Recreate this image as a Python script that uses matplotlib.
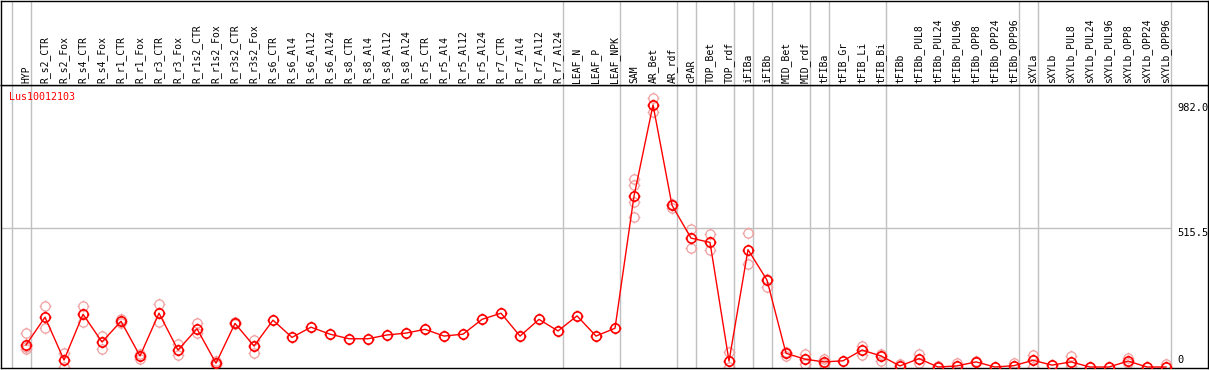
import numpy as np
import matplotlib.pyplot as plt
from matplotlib.path import Path

# sample names along the x axis
samples = ['HYP', 'R_s2_CTR', 'R_s2_Fox', 'R_s4_CTR', 'R_s4_Fox', 'R_r1_CTR', 'R_r1_Fox',
           'R_r3_CTR', 'R_r3_Fox', 'R_r1s2_CTR', 'R_r1s2_Fox', 'R_r3s2_CTR', 'R_r3s2_Fox',
           'R_s6_CTR', 'R_s6_Al4', 'R_s6_Al12', 'R_s6_Al24', 'R_s8_CTR', 'R_s8_Al4', 'R_s8_Al12',
           'R_s8_Al24', 'R_r5_CTR', 'R_r5_Al4', 'R_r5_Al12', 'R_r5_Al24', 'R_r7_CTR', 'R_r7_Al4',
           'R_r7_Al12', 'R_r7_Al24', 'LEAF_N', 'LEAF_P', 'LEAF_NPK', 'SAM', 'AR_Bet', 'AR_rdf',
           'cPAR', 'TOP_Bet', 'TOP_rdf', 'iFIBa', 'iFIBb', 'MID_Bet', 'MID_rdf', 'tFIBa',
           'tFIB_Gr', 'tFIB_Li', 'tFIB_Bi', 'tFIBb', 'tFIBb_PUL8', 'tFIBb_PUL24', 'tFIBb_PUL96',
           'tFIBb_OPP8', 'tFIBb_OPP24', 'tFIBb_OPP96', 'sXYLa', 'sXYLb', 'sXYLb_PUL8',
           'sXYLb_PUL24', 'sXYLb_PUL96', 'sXYLb_OPP8', 'sXYLb_OPP24', 'sXYLb_OPP96']

# mean expression per sample
means = [82, 185, 26, 196, 93, 170, 41, 200, 63, 142, 14, 162, 78,
         174, 110, 148, 122, 105, 105, 119, 126, 140, 115, 122, 177, 200, 115, 177, 134,
         190, 115, 144,
         635, 974, 601, 479, 463, 22, 436, 323, 51, 29,
         19, 23, 63, 41, 4, 31, 0, 4, 19, 0, 5,
         25, 7, 19, 0, 0, 22, 0, 0]

# individual replicates (visible ones)
replicates = [[125, 75, 66], [227, 146], [53, 1], [227, 168], [115, 68], [178, 162], [48, 31],
              [234, 166], [84, 43], [165, 127], [22, 7], [166, 160], [99, 53],
              [], [], [], [], [], [], [], [], [], [], [], [], [], [], [], [],
              [], [], [],
              [699, 675, 613, 557], [1001, 946], [606, 592], [513, 442], [494, 434], [57, 0],
              [497, 383], [328, 298], [57, 41], [47, 11],
              [29, 11], [], [78, 46], [48, 23], [11], [48, 16], [4], [16], [23], [], [14],
              [45, 1], [], [42, 4], [], [], [32, 16], [], [11]]

# first sample index of each tissue group
group_starts = [0, 1, 29, 32, 35, 36, 38, 39, 40, 42, 43, 46, 53, 54, 61]

scale_values = [0, 515.5, 982.0]
scale_labels = ['0', '515.5', '982.0']
gene = 'Lus10012103'

# circle (polygon) with small cross ticks
t = np.linspace(0, 2 * np.pi, 33)
r = 0.78
circ = Path(np.column_stack([r * np.cos(t), r * np.sin(t)]))
stubs = Path([(0, r), (0, 1), (0, -r), (0, -1), (r, 0), (1, 0), (-r, 0), (-1, 0)],
             [Path.MOVETO, Path.LINETO] * 4)
marker = Path.make_compound_path(circ, stubs)

W, H = 1209, 370
fig = plt.figure(figsize=(W / 100, H / 100), dpi=100)
ax = fig.add_axes([1 / W, (H - 368) / H, 1207 / W, 283 / H])
hx = fig.add_axes([1 / W, (H - 85) / H, 1207 / W, 84.5 / H])

x = np.arange(len(samples))
xlim = (-1.316, 62.21)
for a in (ax, hx):
    a.set_xlim(*xlim)
    a.set_xticks([])
    a.set_yticks([])
    for s in a.spines.values():
        s.set_color('black')
        s.set_linewidth(1)
    for g in group_starts:
        a.axvline(g - 0.76, color='#c0c0c0', lw=1, zorder=0)

ax.set_ylim(-3.7, 1048)
hx.set_ylim(0, 1)

ax.hlines(515.5, xlim[0], group_starts[-1] - 0.76, color='#c0c0c0', lw=1, zorder=0)

mono = 'DejaVu Sans Mono'
for i, name in enumerate(samples):
    hx.text(i, 2 / 85, name, rotation=90, ha='center', va='bottom', fontsize=7, family=mono)

for i, reps in enumerate(replicates):
    if reps:
        ax.plot([i] * len(reps), reps, linestyle='none', marker=marker, markersize=8.5,
                markerfacecolor='none', markeredgecolor='#f0a0a0', markeredgewidth=0.9,
                zorder=2)

ax.plot(x, means, color='red', lw=1, marker=marker, markersize=8.5, markerfacecolor='none',
        markeredgecolor='red', markeredgewidth=1.2, zorder=3)

for v, lab in zip(scale_values, scale_labels):
    ax.text(60.58, v + (6 if v == 0 else 0), lab, ha='left', va='bottom' if v == 0 else 'top',
            fontsize=7.5, family=mono)

ax.text(-0.895, 0.9576, gene, transform=ax.get_xaxis_transform(), color='red',
        ha='left', va='center', fontsize=7.2, family=mono)

fig.savefig('out.png', dpi=100)
